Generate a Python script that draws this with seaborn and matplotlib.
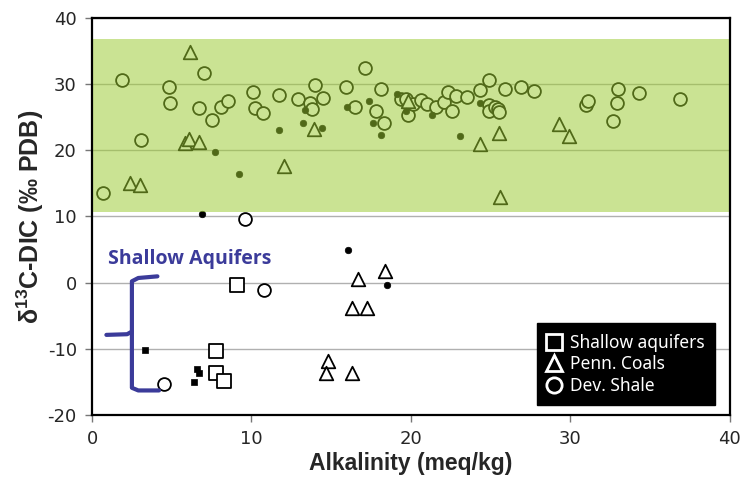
import numpy as np
import pandas as pd
import matplotlib
matplotlib.use("Agg")
import matplotlib.pyplot as plt
from matplotlib.lines import Line2D
import seaborn as sns

# Dev. Shale (open circles)
shale_x = [1.9, 0.7, 3.1, 4.8, 4.9, 6.7, 7.0, 7.5, 8.1, 8.55, 10.1, 10.2, 10.7, 11.7,
           12.9, 13.7, 13.8, 14.0, 14.5, 15.9, 16.5, 17.1, 17.8, 18.1, 18.3, 19.35,
           19.7, 19.8, 20.1, 20.6, 21.0, 21.6, 22.1, 22.3, 22.6, 22.8, 23.5, 24.3,
           24.9, 24.9, 24.9, 25.25, 25.45, 25.55, 25.9, 26.9, 27.7, 31.0, 31.1, 32.7,
           32.9, 33.0, 34.3, 36.85, 9.6, 10.8, 4.5]
shale_y = [30.7, 13.6, 21.6, 29.5, 27.2, 26.4, 31.7, 24.6, 26.5, 27.5, 28.8, 26.4, 25.6, 28.3,
           27.7, 27.2, 26.3, 29.8, 27.9, 29.5, 26.6, 32.4, 25.9, 29.3, 24.1, 27.8,
           27.7, 25.3, 27.0, 27.6, 27.0, 26.5, 27.3, 28.8, 26.0, 28.2, 28.0, 29.1,
           30.7, 26.9, 25.9, 26.5, 26.3, 25.8, 29.2, 29.6, 28.9, 26.9, 27.4, 24.4,
           27.1, 29.3, 28.7, 27.7, 9.6, -1.1, -15.4]

# Penn. Coals (open triangles)
coal_x = [6.15, 5.8, 6.1, 6.7, 2.4, 3.0, 12.05, 13.9, 19.8, 24.3, 25.5, 25.6, 29.3, 29.9,
          16.7, 18.4, 16.3, 17.25, 14.8, 14.7, 16.3]
coal_y = [34.9, 21.1, 21.7, 21.2, 15.1, 14.8, 17.7, 23.2, 27.5, 21.0, 22.6, 12.9, 24.0, 22.2,
          0.6, 1.8, -3.8, -3.8, -11.9, -13.6, -13.6]

# Shallow aquifers (open squares)
aquifer_x = [9.1, 7.8, 7.75, 8.3]
aquifer_y = [-0.3, -10.4, -13.6, -14.9]

# small filled circles
dot_x = [7.7, 9.2, 6.9, 11.7, 13.2, 13.35, 14.4, 16.0, 17.4, 17.6, 18.15, 19.1, 19.7,
         21.35, 23.1, 24.3, 16.05, 18.5]
dot_y = [19.8, 16.4, 10.3, 23.1, 24.2, 26.1, 23.3, 26.5, 27.4, 24.2, 22.3, 28.5, 26.0,
         25.4, 22.1, 27.2, 4.9, -0.3]

# small filled squares
sq_x = [3.35, 6.57, 6.72, 6.4]
sq_y = [-10.2, -13.1, -13.7, -15.0]

band_low, band_high = 10.7, 36.8

sns.set_style("white")
plt.rcParams['font.family'] = ['DejaVu Sans']
plt.rcParams['axes.unicode_minus'] = False
plt.rcParams['mathtext.fontset'] = 'custom'
plt.rcParams['mathtext.bf'] = 'Liberation Sans:bold'
plt.rcParams['mathtext.rm'] = 'Liberation Sans:bold'
plt.rcParams['mathtext.default'] = 'bf'

fig = plt.figure(figsize=(7.44, 4.87), dpi=100)
ax = fig.add_axes([0.1237, 0.148, 0.8573, 0.815])

open_kw = dict(facecolor='white', edgecolor='black', linewidth=1.3, zorder=2)
sns.scatterplot(x=shale_x, y=shale_y, marker='o', s=85, ax=ax, **open_kw)
sns.scatterplot(x=coal_x, y=coal_y, marker='^', s=95, ax=ax, **open_kw)
sns.scatterplot(x=aquifer_x, y=aquifer_y, marker='s', s=95, ax=ax, **open_kw)
sns.scatterplot(x=dot_x, y=dot_y, marker='o', s=22, color='black', edgecolor='black',
                linewidth=0.5, ax=ax, zorder=2)
sns.scatterplot(x=sq_x, y=sq_y, marker='s', s=24, color='black', edgecolor='black',
                linewidth=0.5, ax=ax, zorder=2)

# green band drawn over the points
ax.axhspan(band_low, band_high, color='#9BCB30', alpha=0.52, zorder=3, linewidth=0)

ax.set_xlim(0, 40)
ax.set_ylim(-20, 40)
ax.set_xticks(np.arange(0, 41, 10))
ax.set_yticks(np.arange(-20, 41, 10))
ax.yaxis.grid(True, color='#b0b0b0', linewidth=1, zorder=0)
ax.set_axisbelow(True)
for sp in ax.spines.values():
    sp.set_color('black')
    sp.set_linewidth(1.6)
    sp.set_zorder(5)
ax.tick_params(axis='both', which='major', direction='out', length=5, width=1,
               color='#777777', labelsize=13, pad=6, left=True, bottom=True)

ax.set_xlabel('Alkalinity (meq/kg)', family='Liberation Sans', fontweight='bold',
              fontsize=16.5, labelpad=3)
ax.set_ylabel(r'$\delta^{13}$C-DIC (‰ PDB)', family='Liberation Sans', fontweight='bold',
              fontsize=18, labelpad=1)

# bracket annotation
blue = '#3B3B9A'
ax.plot([4.1, 2.9, 2.5, 2.5, 2.9, 4.2], [0.95, 0.7, 0.2, -15.9, -16.3, -16.3],
        color=blue, lw=3, solid_capstyle='round', solid_joinstyle='round', zorder=4)
ax.plot([0.9, 2.2, 2.5], [-7.9, -7.8, -7.4], color=blue, lw=3,
        solid_capstyle='round', solid_joinstyle='round', zorder=4)
ax.text(1.0, 3.5, 'Shallow Aquifers', color=blue, fontweight='bold', fontsize=14,
        family='Open Sans', va='center', ha='left', zorder=4)

handles = [
    Line2D([], [], linestyle='none', marker='s', markersize=11, markerfacecolor='black',
           markeredgecolor='white', markeredgewidth=2, label='Shallow aquifers'),
    Line2D([], [], linestyle='none', marker='^', markersize=11, markerfacecolor='black',
           markeredgecolor='white', markeredgewidth=2, label='Penn. Coals'),
    Line2D([], [], linestyle='none', marker='o', markersize=11, markerfacecolor='black',
           markeredgecolor='white', markeredgewidth=2, label='Dev. Shale'),
]
leg = ax.legend(handles=handles, loc='lower right', bbox_to_anchor=(0.976, 0.025),
                frameon=True, fancybox=False, facecolor='black', edgecolor='black',
                framealpha=1, prop={'family': 'Noto Sans', 'size': 12.5},
                handlelength=0.8, handletextpad=0.5, labelspacing=0.2,
                borderpad=0.6, borderaxespad=0)
for t in leg.get_texts():
    t.set_color('white')
leg.set_zorder(6)

fig.savefig('out.png', dpi=100)
